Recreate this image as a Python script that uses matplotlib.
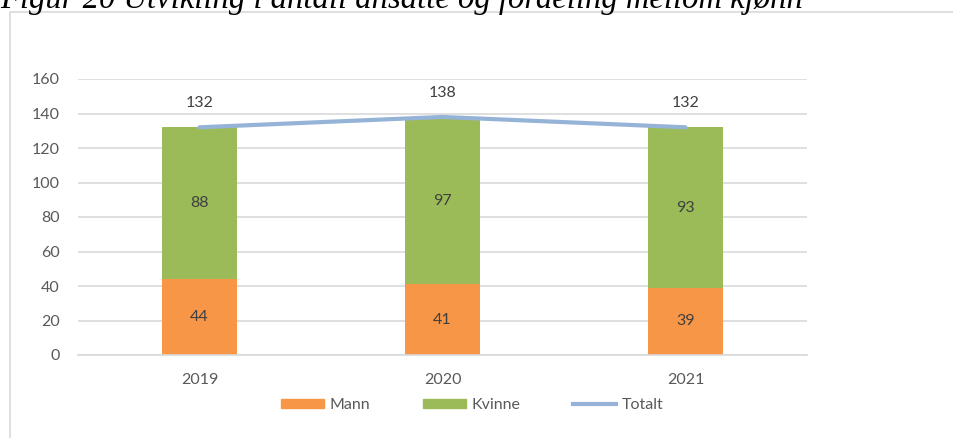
import matplotlib
matplotlib.use("Agg")
import matplotlib.pyplot as plt
from matplotlib.patches import Rectangle
from matplotlib.lines import Line2D
import numpy as np

years = ["2019", "2020", "2021"]
mann = [44, 41, 39]
kvinne = [88, 97, 93]
totalt = [132, 138, 132]

plt.rcParams['font.family'] = ['Lato', 'DejaVu Sans']

W, H = 954, 438
fig = plt.figure(figsize=(W/100, H/100), dpi=100)

def fx(px): return px / W
def fy(py): return 1 - py / H

# outer chart frame
fig.patches.append(Rectangle((fx(10), fy(445)), fx(960) - fx(10), fy(12) - fy(445),
                             transform=fig.transFigure, fill=False,
                             edgecolor='#D9D9D9', linewidth=1.2))

fig.text(fx(0), fy(8), "Figur 20 Utvikling i antall ansatte og fordeling mellom kjønn",
         family=['Liberation Serif', 'DejaVu Serif'], style='italic', fontsize=23.5,
         color='black', va='baseline', ha='left')

ax = fig.add_axes([fx(78), fy(355), fx(807) - fx(78), fy(79) - fy(355)])
x = np.arange(len(years))
bw = 0.31
c_m = '#F79646'
c_k = '#9BBB59'
c_t = '#95B3D7'
ax.bar(x, mann, bw, color=c_m, zorder=2, label='Mann')
ax.bar(x, kvinne, bw, bottom=mann, color=c_k, zorder=2, label='Kvinne')
ax.plot(x, totalt, color=c_t, linewidth=3, zorder=3, solid_capstyle='round', label='Totalt')

fs = 11.5
lab_col = '#404040'
for i in range(len(years)):
    ax.text(x[i], mann[i] / 2, str(mann[i]), ha='center', va='center', fontsize=fs, color=lab_col, zorder=4)
    ax.text(x[i], mann[i] + kvinne[i] / 2, str(kvinne[i]), ha='center', va='center', fontsize=fs, color=lab_col, zorder=4)
    ax.annotate(str(totalt[i]), (x[i], totalt[i]), xytext=(0, 17.5), textcoords='offset points',
                ha='center', va='center', fontsize=fs, color=lab_col, zorder=4)

ax.set_xlim(-0.5, 2.5)
ax.set_ylim(0, 160)
ax.set_yticks(range(0, 161, 20))
ax.set_xticks(x)
ax.set_xticklabels(years)
ax.tick_params(axis='both', length=0, labelsize=fs, labelcolor='#595959')
ax.tick_params(axis='y', pad=13)
ax.tick_params(axis='x', pad=13)
ax.grid(axis='y', color='#D9D9D9', linewidth=1.2, zorder=0)
ax.set_axisbelow(True)
for s in ['top', 'right', 'left']:
    ax.spines[s].set_visible(False)
ax.spines['bottom'].set_color('#D9D9D9')
ax.spines['bottom'].set_linewidth(1.2)

handles = [Rectangle((0, 0), 1, 1, color=c_m), Rectangle((0, 0), 1, 1, color=c_k),
           Line2D([0], [0], color=c_t, linewidth=3)]
leg = fig.legend(handles, ['Mann', 'Kvinne', 'Totalt'], loc='center',
                 bbox_to_anchor=(fx(472), fy(405)), ncol=3, frameon=False,
                 fontsize=fs, handlelength=2.7, handleheight=0.55, handletextpad=0.35,
                 columnspacing=3.3, labelcolor='#595959')

fig.savefig('out.png', dpi=100)
